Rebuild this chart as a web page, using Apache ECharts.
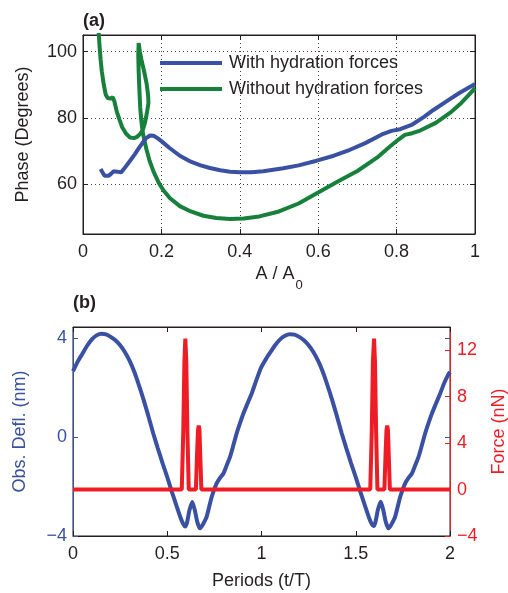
<!DOCTYPE html>
<html>
<head>
<meta charset="utf-8">
<script src="https://cdn.jsdelivr.net/npm/echarts@6/dist/echarts.min.js"></script>
<style>
  html, body { margin: 0; padding: 0; background: #fff; }
  #chart { width: 508px; height: 593px; }
</style>
</head>
<body>
<div id="chart"></div>
<script>
// ---- (a) phase vs. normalised amplitude ----
const ampWith = [0.045, 0.050, 0.055, 0.060, 0.066, 0.072, 0.078, 0.083, 0.087, 0.091, 0.097, 0.103, 0.112, 0.122, 0.132, 0.142, 0.152, 0.162, 0.171, 0.180, 0.190, 0.200, 0.220, 0.247, 0.275, 0.300, 0.324, 0.350, 0.375, 0.400, 0.430, 0.460, 0.511, 0.550, 0.596, 0.640, 0.681, 0.720, 0.766, 0.787, 0.809, 0.840, 0.870, 0.894, 0.930, 0.960, 1.000];
const phaseWith = [64.6, 63.5, 62.6, 62.3, 62.6, 63.2, 63.9, 64.4, 63.8, 63.3, 63.6, 64.4, 65.8, 67.4, 69.0, 70.8, 72.5, 74.0, 74.7, 74.6, 73.9, 73.0, 71.0, 68.6, 66.8, 65.7, 64.9, 64.2, 63.8, 63.6, 63.6, 63.9, 64.8, 65.7, 67.1, 68.6, 70.4, 72.4, 75.2, 76.1, 76.6, 78.0, 80.3, 82.4, 85.2, 87.5, 90.2];

const ampWithout = [0.040, 0.042, 0.045, 0.048, 0.053, 0.058, 0.063, 0.070, 0.076, 0.080, 0.086, 0.093, 0.100, 0.110, 0.120, 0.130, 0.138, 0.146, 0.153, 0.158, 0.163, 0.167, 0.166, 0.162, 0.156, 0.150, 0.145, 0.142, 0.141, 0.141, 0.142, 0.144, 0.146, 0.149, 0.152, 0.156, 0.162, 0.170, 0.180, 0.193, 0.205, 0.222, 0.247, 0.275, 0.307, 0.340, 0.375, 0.410, 0.450, 0.500, 0.550, 0.600, 0.650, 0.700, 0.750, 0.783, 0.804, 0.821, 0.840, 0.860, 0.900, 0.936, 0.965, 0.985, 1.000];
const phaseWithout = [106, 102, 97.5, 94.0, 90.0, 87.0, 86.0, 85.8, 86.2, 85.0, 82.0, 79.5, 77.2, 75.2, 74.1, 73.9, 74.3, 75.2, 76.5, 78.5, 81.5, 84.5, 87.0, 90.5, 94.0, 97.0, 100.0, 102.6, 102.0, 99.0, 94.0, 88.0, 83.0, 79.0, 76.0, 73.5, 70.5, 67.0, 63.8, 60.5, 58.2, 55.8, 53.4, 51.8, 50.5, 49.8, 49.5, 49.7, 50.3, 51.8, 54.2, 57.5, 60.8, 64.0, 68.0, 71.4, 73.4, 74.9, 75.4, 76.2, 78.5, 81.5, 84.5, 87.0, 89.0];

const phaseTicks = [60, 80, 100];

// ---- (b) deflection and tip force over two periods ----
const periods = [0, 0.025, 0.05, 0.075, 0.1, 0.125, 0.15, 0.175, 0.2, 0.225, 0.25, 0.275, 0.3, 0.325, 0.35, 0.375, 0.4, 0.425, 0.45, 0.475, 0.5, 0.525, 0.55, 0.57, 0.585, 0.595, 0.605, 0.618, 0.633, 0.646, 0.66, 0.674, 0.688, 0.709, 0.736, 0.762, 0.78, 0.798, 0.815, 0.833, 0.85, 0.868, 0.885, 0.904, 0.925, 0.948, 0.97, 0.992,
  1.0, 1.025, 1.05, 1.075, 1.1, 1.125, 1.15, 1.175, 1.2, 1.225, 1.25, 1.275, 1.3, 1.325, 1.35, 1.375, 1.4, 1.425, 1.45, 1.475, 1.5, 1.525, 1.55, 1.57, 1.585, 1.595, 1.605, 1.618, 1.633, 1.646, 1.66, 1.674, 1.688, 1.709, 1.736, 1.762, 1.78, 1.798, 1.815, 1.833, 1.85, 1.868, 1.885, 1.904, 1.925, 1.948, 1.97, 1.992, 2.0];
const deflection = [2.67, 3.06, 3.38, 3.70, 3.96, 4.12, 4.19, 4.16, 4.06, 3.92, 3.72, 3.45, 3.10, 2.65, 2.10, 1.50, 0.85, 0.17, -0.45, -1.05, -1.62, -2.22, -2.80, -3.25, -3.52, -3.62, -3.45, -2.95, -2.62, -2.95, -3.45, -3.69, -3.55, -3.22, -2.41, -1.87, -1.65, -1.47, -1.15, -0.80, -0.35, 0.15, 0.55, 0.96, 1.35, 1.77, 2.25, 2.71,
  2.85, 3.18, 3.47, 3.75, 3.97, 4.11, 4.17, 4.15, 4.06, 3.92, 3.72, 3.45, 3.10, 2.65, 2.10, 1.50, 0.85, 0.17, -0.45, -1.05, -1.62, -2.22, -2.80, -3.25, -3.52, -3.60, -3.42, -2.92, -2.61, -2.95, -3.45, -3.69, -3.55, -3.22, -2.41, -1.87, -1.65, -1.47, -1.15, -0.80, -0.35, 0.15, 0.55, 0.96, 1.35, 1.77, 2.20, 2.55, 2.64];

const forceTime = [0, 0.577, 0.585, 0.591, 0.596, 0.601, 0.607, 0.614, 0.652, 0.658, 0.663, 0.667, 0.671, 0.675, 0.681,
  1.577, 1.585, 1.591, 1.597, 1.602, 1.608, 1.615, 1.652, 1.658, 1.663, 1.667, 1.671, 1.675, 1.681, 2.0];
const force = [0, 0, 5, 11, 13.0, 11, 5, 0, 0, 3, 5.1, 5.5, 5.1, 3, 0,
  0, 5, 11, 13.0, 11, 5, 0, 0, 3, 5.1, 5.5, 5.1, 3, 0, 0];

const deflTicks = [-4, 0, 4];
const forceTicks = [-4, 0, 4, 8, 12];
const periodTicks = [0, 0.5, 1, 1.5, 2];

const zip = (xs, ys) => xs.map((x, i) => [x, ys[i]]);

const FONT = '"Liberation Sans", Arial, Helvetica, sans-serif';
const INK = '#231f20';
const BLUE = '#3a51a3';
const GREEN = '#17803b';
const RED = '#ee1c25';
const LW = 4;
const minus = v => (v < 0 ? '\u2212' + Math.abs(v) : String(v));

const tickIn = (color) => ({ show: true, inside: true, length: 5, lineStyle: { color: color, width: 1 } });
const line = (color, show) => ({ show: show !== false, onZero: false, lineStyle: { color: color, width: 1 } });
const dotted = { show: true, lineStyle: { color: '#444', width: 1, type: [1, 3] } };

const chart = echarts.init(document.getElementById('chart'), null, { renderer: 'canvas' });

chart.setOption({
  animation: false,
  textStyle: { fontFamily: FONT },
  title: [
    { text: '(a)', left: 83, top: 12, padding: 0, textStyle: { fontFamily: FONT, fontSize: 18, fontWeight: 'bold', color: INK } },
    { text: '(b)', left: 73, top: 294, padding: 0, textStyle: { fontFamily: FONT, fontSize: 18, fontWeight: 'bold', color: INK } }
  ],
  legend: {
    orient: 'vertical',
    left: 160,
    top: 54,
    padding: 0,
    icon: 'rect',
    itemWidth: 62,
    itemHeight: 4,
    itemGap: 8,
    data: ['With hydration forces', 'Without hydration forces'],
    textStyle: { fontFamily: FONT, fontSize: 18, lineHeight: 18, color: INK, padding: [0, 0, 0, 2] }
  },
  grid: [
    { left: 83, top: 35, width: 392, height: 199, outerBoundsMode: 'none', containLabel: false,
      show: true, borderColor: INK, borderWidth: 1, backgroundColor: 'transparent' },
    { left: 73, top: 327, width: 377, height: 209, outerBoundsMode: 'none', containLabel: false,
      show: true, borderColor: INK, borderWidth: 1, backgroundColor: 'transparent' }
  ],
  xAxis: [
    {
      gridIndex: 0, type: 'value', min: 0, max: 1, interval: 0.2, position: 'bottom',
      axisLine: line(INK),
      axisTick: tickIn(INK),
      splitLine: dotted,
      axisLabel: { fontFamily: FONT, fontSize: 18, color: INK, margin: 9 },
      name: 'A / A{s|0}', nameLocation: 'middle', nameGap: 31,
      nameTextStyle: { fontFamily: FONT, fontSize: 18, color: INK,
        rich: { s: { fontFamily: FONT, fontSize: 13, color: INK, verticalAlign: 'bottom', padding: [0, 0, -9, 1] } } }
    },
    {
      gridIndex: 0, type: 'value', min: 0, max: 1, interval: 0.2, position: 'top',
      axisLine: line(INK),
      axisTick: tickIn(INK), axisLabel: { show: false }, splitLine: { show: false }
    },
    {
      gridIndex: 1, type: 'value', min: 0, max: 2, interval: 0.5, position: 'bottom',
      axisLine: line(INK),
      axisTick: tickIn(INK), splitLine: { show: false },
      axisLabel: { fontFamily: FONT, fontSize: 18, color: INK, margin: 9, customValues: periodTicks },
      name: 'Periods (t/T)', nameLocation: 'middle', nameGap: 36,
      nameTextStyle: { fontFamily: FONT, fontSize: 18, color: INK }
    },
    {
      gridIndex: 1, type: 'value', min: 0, max: 2, interval: 0.5, position: 'top',
      axisLine: line(INK),
      axisTick: tickIn(INK), axisLabel: { show: false }, splitLine: { show: false }
    }
  ],
  yAxis: [
    {
      gridIndex: 0, type: 'value', min: 45, max: 105, position: 'left',
      axisLine: line(INK),
      axisTick: Object.assign(tickIn(INK), { customValues: phaseTicks }),
      splitLine: dotted,
      axisLabel: { fontFamily: FONT, fontSize: 18, color: INK, margin: 6, customValues: phaseTicks },
      name: 'Phase (Degrees)', nameLocation: 'middle', nameGap: 51,
      nameTextStyle: { fontFamily: FONT, fontSize: 18, color: INK }
    },
    {
      gridIndex: 0, type: 'value', min: 45, max: 105, position: 'right',
      axisLine: line(INK),
      axisTick: Object.assign(tickIn(INK), { customValues: phaseTicks }),
      axisLabel: { show: false, customValues: phaseTicks }, splitLine: { show: false }
    },
    {
      gridIndex: 1, type: 'value', min: -4, max: 4.46, position: 'left',
      axisLine: line(BLUE),
      axisTick: Object.assign(tickIn(BLUE), { customValues: deflTicks }),
      splitLine: { show: false },
      axisLabel: { fontFamily: FONT, fontSize: 18, color: BLUE, margin: 6, customValues: deflTicks, formatter: minus },
      name: 'Obs. Defl. (nm)', nameLocation: 'middle', nameGap: 44,
      nameTextStyle: { fontFamily: FONT, fontSize: 18, color: BLUE }
    },
    {
      gridIndex: 1, type: 'value', min: -4, max: 14, position: 'right',
      axisLine: line(RED),
      axisTick: Object.assign(tickIn(RED), { customValues: forceTicks }),
      splitLine: { show: false },
      axisLabel: { fontFamily: FONT, fontSize: 18, color: RED, margin: 7, customValues: forceTicks, formatter: minus },
      name: 'Force (nN)', nameLocation: 'middle', nameGap: 40,
      nameTextStyle: { fontFamily: FONT, fontSize: 18, color: RED }
    },
    {
      gridIndex: 1, type: 'value', min: -4, max: 4.46, position: 'right',
      axisLine: line(BLUE, false),
      axisTick: Object.assign(tickIn(BLUE), { customValues: [0, 4] }),
      axisLabel: { show: false, customValues: [0, 4] }, splitLine: { show: false }
    }
  ],
  series: [
    {
      name: 'With hydration forces', type: 'line', xAxisIndex: 0, yAxisIndex: 0,
      data: zip(ampWith, phaseWith), showSymbol: false, symbol: 'none',
      lineStyle: { color: BLUE, width: LW }, itemStyle: { color: BLUE }, z: 3
    },
    {
      name: 'Without hydration forces', type: 'line', xAxisIndex: 0, yAxisIndex: 0,
      data: zip(ampWithout, phaseWithout), showSymbol: false, symbol: 'none',
      lineStyle: { color: GREEN, width: LW }, itemStyle: { color: GREEN }, z: 2
    },
    {
      name: 'Obs. Defl.', type: 'line', xAxisIndex: 2, yAxisIndex: 2,
      data: zip(periods, deflection), showSymbol: false, symbol: 'none', smooth: 0.2,
      lineStyle: { color: BLUE, width: LW }, itemStyle: { color: BLUE }, z: 2
    },
    {
      name: 'Force', type: 'line', xAxisIndex: 2, yAxisIndex: 3,
      data: zip(forceTime, force), showSymbol: false, symbol: 'none',
      lineStyle: { color: RED, width: LW }, itemStyle: { color: RED }, z: 3
    }
  ]
});
</script>
</body>
</html>
